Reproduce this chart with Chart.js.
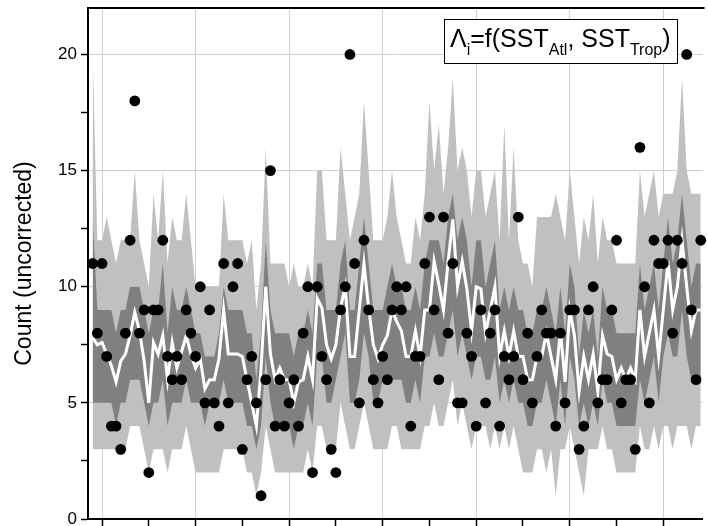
<!DOCTYPE html>
<html>
<head>
<meta charset="utf-8">
<script src="https://cdn.jsdelivr.net/npm/chart.js@4.4.0/dist/chart.umd.min.js"></script>
<style>
  html, body { margin: 0; padding: 0; background: #fff; overflow: hidden; }
</style>
</head>
<body>
<canvas id="countChart" width="708" height="526"></canvas>
<script>
// Annual counts 1878-2008 with modelled rate and predictive bands
const FIRST_YEAR = 1878;
const FONT = "'Liberation Sans', Arial, sans-serif";

const counts = [
  11, 8, 11, 7, 4, 4, 3, 8, 12, 18,
  8, 9, 2, 9, 9, 12, 7, 6, 7, 6,
  9, 8, 7, 10, 5, 9, 5, 4, 11, 5,
  10, 11, 3, 6, 7, 5, 1, 6, 15, 4,
  6, 4, 5, 6, 4, 8, 10, 2, 10, 7,
  6, 3, 2, 9, 10, 20, 11, 5, 12, 9,
  6, 5, 7, 6, 9, 10, 9, 10, 4, 7,
  7, 11, 13, 9, 6, 13, 8, 11, 5, 5,
  8, 7, 4, 9, 5, 8, 9, 4, 7, 6,
  7, 13, 6, 8, 5, 7, 9, 8, 8, 4,
  8, 5, 9, 9, 3, 4, 9, 10, 5, 6,
  6, 9, 12, 5, 6, 6, 3, 16, 10, 5,
  12, 11, 11, 12, 8, 12, 11, 20, 9, 6,
  12
];

const meanRate = [
  7.8, 7.5, 7.6, 7.1, 6.6, 5.9, 6.8, 7.1, 7.9, 8.9,
  8.1, 6.8, 5.0, 7.6, 7.1, 7.9, 6.0, 7.6, 6.5, 7.2,
  7.9, 7.1, 6.5, 6.9, 5.6, 6.0, 6.0, 6.9, 9.0, 7.1,
  7.1, 7.1, 7.0, 6.0, 5.0, 4.0, 6.5, 10.0, 7.1, 6.0,
  6.5, 6.0, 6.0, 5.0, 5.9, 6.0, 7.0, 6.0, 9.5, 9.1,
  7.5, 6.9, 7.5, 9.1, 10.0, 7.0, 7.0, 9.0, 11.0, 9.1,
  7.5, 6.9, 7.5, 7.9, 9.0, 8.5, 8.1, 7.0, 7.0, 8.1,
  7.0, 9.0, 9.0, 11.1, 10.1, 9.0, 11.1, 12.9, 10.0, 11.1,
  9.9, 8.1, 10.0, 9.9, 8.0, 9.0, 10.0, 7.0, 8.1, 7.0,
  8.1, 7.0, 7.0, 6.0, 6.0, 7.0, 7.0, 8.0, 7.0, 6.0,
  8.1, 5.9, 9.0, 7.9, 5.5, 7.0, 6.0, 7.1, 5.5, 7.9,
  7.1, 7.0, 6.0, 6.5, 6.0, 6.5, 6.0, 9.0, 7.0, 8.0,
  9.0, 7.0, 9.0, 11.1, 9.0, 10.0, 12.0, 10.0, 8.1, 9.0,
  9.0
];

const outerHi = [
  20, 12, 12, 13, 12, 11, 12, 12, 12, 15,
  12, 11, 10, 14, 12, 15, 11, 13, 12, 12,
  14, 12, 10, 10, 10, 10, 10, 10, 14, 12,
  12, 12, 12, 11, 12, 9, 11, 16, 11, 11,
  11, 11, 10, 11, 10, 10, 11, 10, 15, 15,
  12, 12, 12, 16, 14, 12, 13, 14, 18, 15,
  12, 12, 12, 13, 15, 13, 12, 11, 11, 13,
  12, 14, 18, 15, 17, 14, 16, 19, 15, 16,
  15, 13, 15, 15, 13, 14, 15, 12, 17, 12,
  16, 12, 11, 11, 10, 13, 13, 13, 13, 14,
  13, 12, 15, 13, 11, 13, 12, 14, 11, 13,
  12, 12, 11, 11, 11, 11, 11, 15, 13, 14,
  15, 13, 14, 14, 14, 15, 19, 15, 14, 14,
  14
];

const innerHi = [
  13, 9, 9, 9, 9, 8, 9, 9, 10, 10,
  10, 9, 8, 9, 9, 11, 8, 10, 9, 9,
  10, 9, 8, 8, 7, 7, 7, 8, 10, 9,
  9, 9, 9, 8, 8, 6, 8, 12, 9, 8,
  8, 8, 8, 7, 8, 8, 9, 8, 11, 11,
  9, 9, 9, 11, 12, 9, 9, 11, 13, 11,
  9, 9, 9, 10, 11, 10, 10, 9, 9, 10,
  9, 11, 12, 12, 12, 11, 13, 14, 12, 13,
  12, 10, 12, 12, 10, 11, 12, 9, 10, 9,
  10, 9, 9, 8, 8, 9, 9, 10, 9, 8,
  10, 8, 11, 10, 7, 9, 8, 9, 7, 10,
  9, 9, 8, 8, 8, 8, 8, 11, 9, 10,
  11, 9, 11, 13, 11, 12, 14, 12, 10, 11,
  11
];

const innerLo = [
  5, 5, 5, 5, 5, 4, 5, 5, 6, 6,
  6, 5, 4, 5, 5, 6, 4, 5, 5, 5,
  6, 5, 5, 5, 4, 5, 5, 5, 6, 5,
  5, 5, 5, 4, 4, 3, 4, 7, 5, 4,
  4, 4, 4, 3, 4, 4, 5, 4, 7, 7,
  5, 5, 6, 7, 8, 5, 5, 6, 8, 7,
  5, 5, 6, 6, 6, 6, 6, 5, 5, 6,
  5, 7, 7, 8, 7, 7, 8, 9, 7, 8,
  7, 6, 7, 7, 6, 6, 7, 5, 6, 5,
  6, 5, 5, 4, 4, 5, 5, 6, 5, 4,
  6, 4, 7, 6, 4, 5, 4, 5, 4, 6,
  5, 5, 4, 4, 4, 4, 4, 6, 5, 6,
  7, 5, 7, 8, 7, 7, 9, 7, 6, 6,
  6
];

const outerLo = [
  3, 3, 3, 3, 3, 3, 3, 3, 4, 4,
  4, 3, 2, 3, 3, 3, 2, 3, 3, 3,
  4, 3, 2, 2, 2, 2, 2, 2, 3, 3,
  3, 3, 3, 2, 2, 1, 2, 4, 3, 2,
  2, 2, 2, 2, 2, 2, 3, 2, 4, 4,
  3, 3, 3, 5, 4, 3, 3, 4, 5, 4,
  3, 3, 3, 3, 4, 4, 3, 3, 3, 3,
  3, 4, 4, 5, 4, 4, 5, 6, 4, 5,
  4, 3, 4, 4, 4, 3, 4, 3, 4, 3,
  4, 3, 2, 2, 2, 3, 3, 2, 3, 1,
  3, 3, 4, 3, 2, 1, 3, 3, 3, 4,
  3, 3, 2, 2, 2, 2, 2, 4, 3, 3,
  4, 3, 4, 4, 3, 4, 4, 4, 3, 4,
  4
];

const xTicks = [1880, 1890, 1900, 1910, 1920, 1930, 1940, 1950, 1960, 1970, 1980, 1990, 2000];
const xGridYears = [1880, 1900, 1920, 1940, 1960, 1980, 2000];
const yTicks = [0, 2.5, 5, 7.5, 10, 12.5, 15, 17.5, 20];
const yLabels = [0, 5, 10, 15, 20];

const years = counts.map((_, i) => FIRST_YEAR + i);
const toPoints = (arr) => arr.map((v, i) => ({ x: years[i], y: v }));

const bandLine = {
  pointRadius: 0,
  borderWidth: 0,
  borderColor: "rgba(0,0,0,0)",
  tension: 0,
};

// Top frame line + formula box
const frame = {
  id: "frame",
  afterDraw(chart) {
    const { ctx, chartArea } = chart;
    ctx.save();
    ctx.strokeStyle = "#000";
    ctx.lineWidth = 2;
    ctx.beginPath();
    ctx.moveTo(chartArea.left - 1, chartArea.top);
    ctx.lineTo(chartArea.right + 2, chartArea.top);
    ctx.stroke();

    // formula box
    ctx.fillStyle = "#fff";
    ctx.fillRect(444.5, 19.5, 233, 44);
    ctx.lineWidth = 1;
    ctx.strokeRect(444.5, 19.5, 233, 44);

    const parts = [
      ["\u039B", false], ["i", true], ["=f(SST", false], ["Atl", true],
      [", SST", false], ["Trop", true], [")", false],
    ];
    let x = 450;
    const base = 47;
    ctx.fillStyle = "#000";
    ctx.textBaseline = "alphabetic";
    parts.forEach(([t, sub]) => {
      ctx.font = (sub ? 16 : 25) + "px " + FONT;
      ctx.fillText(t, x, sub ? base + 8 : base);
      x += ctx.measureText(t).width;
    });
    ctx.restore();
  },
};

const chart = new Chart(document.getElementById("countChart"), {
  type: "line",
  data: {
    datasets: [
      {
        label: "Observed",
        data: toPoints(counts),
        showLine: false,
        pointRadius: 5.4,
        pointHoverRadius: 5.4,
        pointBackgroundColor: "#000",
        pointBorderWidth: 0,
        borderColor: "#000",
        clip: false,
        order: 0,
      },
      {
        label: "Mean",
        data: toPoints(meanRate),
        borderColor: "#fff",
        borderWidth: 3,
        pointRadius: 0,
        tension: 0,
        fill: false,
        order: 1,
      },
      {
        ...bandLine,
        label: "Inner upper",
        data: toPoints(innerHi),
        fill: "+1",
        backgroundColor: "#808080",
        order: 2,
      },
      {
        ...bandLine,
        label: "Inner lower",
        data: toPoints(innerLo),
        fill: false,
        order: 3,
      },
      {
        ...bandLine,
        label: "Outer upper",
        data: toPoints(outerHi),
        fill: "+1",
        backgroundColor: "#c0c0c0",
        order: 4,
      },
      {
        ...bandLine,
        label: "Outer lower",
        data: toPoints(outerLo),
        fill: false,
        order: 5,
      },
    ],
  },
  options: {
    responsive: false,
    animation: false,
    events: [],
    layout: { padding: { top: 8, right: 0, bottom: 0, left: 0 } },
    plugins: {
      legend: { display: false },
      tooltip: { enabled: false },
    },
    scales: {
      x: {
        type: "linear",
        min: 1877,
        max: 2008.4,
        afterBuildTicks: (s) => { s.ticks = xTicks.map((v) => ({ value: v })); },
        afterFit: (s) => {
          s.height = 7;
          s.paddingLeft = 0;
          s.paddingRight = 0;
        },
        ticks: { display: false },
        grid: {
          color: (c) => (c.tick && xGridYears.includes(c.tick.value) ? "#d0d0d0" : "rgba(0,0,0,0)"),
          lineWidth: 1,
          tickLength: 7,
          tickColor: "#000",
          tickWidth: 1.5,
        },
        border: { display: true, color: "#000", width: 2 },
      },
      y: {
        type: "linear",
        min: 0,
        max: 22,
        afterBuildTicks: (s) => { s.ticks = yTicks.map((v) => ({ value: v })); },
        afterFit: (s) => {
          s.width = 88;
          s.paddingTop = 0;
          s.paddingBottom = 0;
        },
        ticks: {
          color: "#000",
          font: { family: FONT, size: 17 },
          padding: 4,
          autoSkip: false,
          callback: (v) => (yLabels.includes(v) ? String(v) : ""),
        },
        grid: {
          color: (c) => (c.tick && yLabels.includes(c.tick.value) && c.tick.value > 0 ? "#d0d0d0" : "rgba(0,0,0,0)"),
          lineWidth: 1,
          tickLength: 7,
          tickColor: "#000",
          tickWidth: 1.5,
        },
        border: { display: true, color: "#000", width: 2 },
        title: {
          display: true,
          text: "Count (uncorrected)",
          color: "#000",
          font: { family: FONT, size: 23 },
          padding: { top: 11, bottom: 0 },
        },
      },
    },
  },
  plugins: [frame],
});
</script>
</body>
</html>
